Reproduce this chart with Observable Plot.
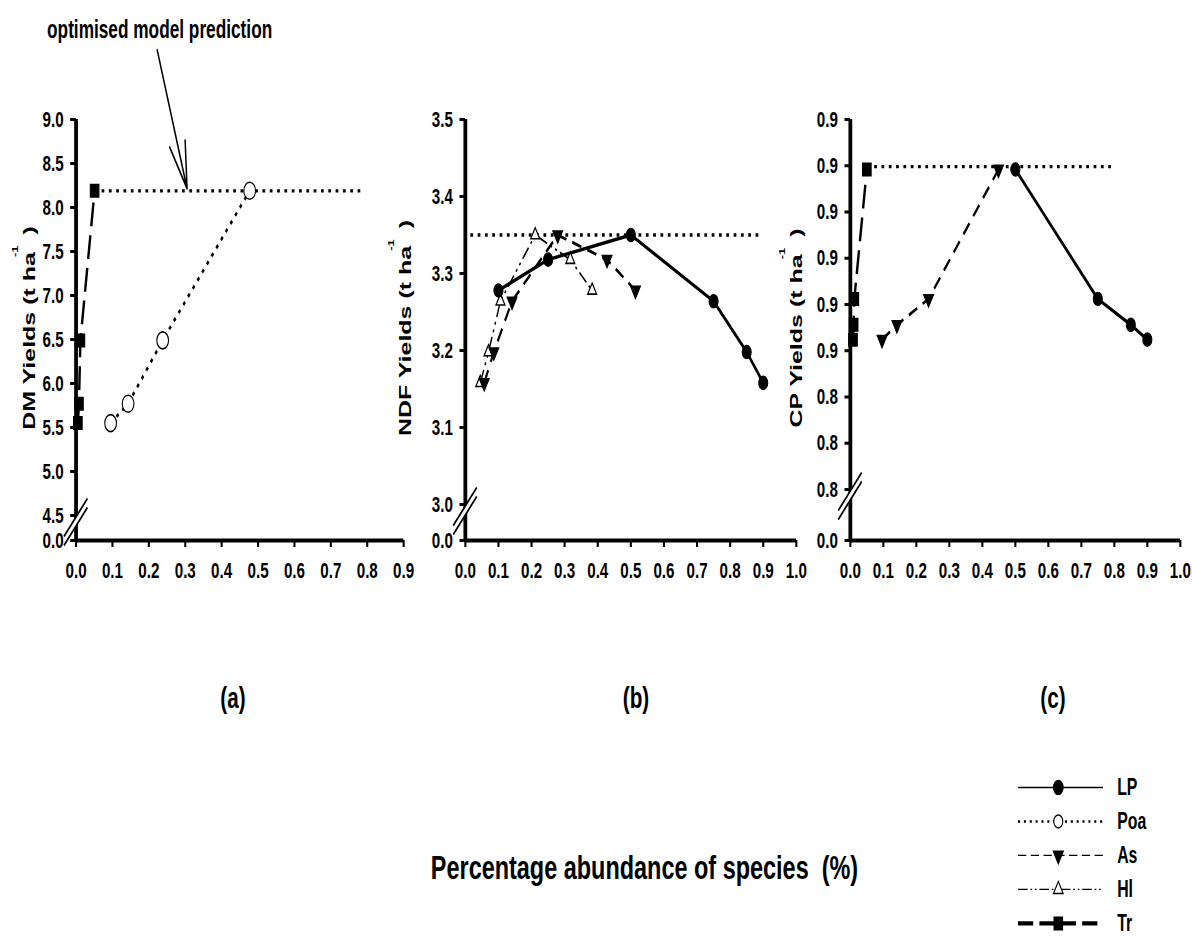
<!DOCTYPE html>
<html>
<head>
<meta charset="utf-8">
<script src="https://cdn.jsdelivr.net/npm/d3@7"></script>
<script src="https://cdn.jsdelivr.net/npm/@observablehq/plot@0.6"></script>
<style>
  html, body { margin: 0; padding: 0; background: #fff; }
  #frame { position: relative; width: 1192px; height: 937px; overflow: hidden; background: #fff; }
  #stage { position: absolute; left: 0; top: 0; height: 937px; transform-origin: 0 0; }
  #stage svg { position: absolute; top: 0; overflow: visible; }
</style>
</head>
<body>
<div id="frame"><div id="stage"></div></div>
<script>
// The figure is laid out on a wide stage and squeezed horizontally as a whole.
const SQUEEZE = 0.69;
const STAGE_W = 1192 / SQUEEZE;
const FONT = "'Liberation Sans', Arial, Helvetica, sans-serif";

// ---------------- data ----------------
const speciesNames = ["LP", "Poa", "As", "Hl", "Tr"];

// (a) DM yields
const dmPoaX = [0.095, 0.143, 0.238, 0.477];
const dmPoaY = [5.55, 5.77, 6.49, 8.19];
const dmTrX  = [0.005, 0.008, 0.012, 0.051];
const dmTrY  = [5.55, 5.77, 6.49, 8.19];
const dmOptX = [0.05, 0.79];
const dmOptY = [8.19, 8.19];
const dmTicks = [4.5, 5.0, 5.5, 6.0, 6.5, 7.0, 7.5, 8.0, 8.5, 9.0];
const dmAbundanceTicks = [0, 0.1, 0.2, 0.3, 0.4, 0.5, 0.6, 0.7, 0.8, 0.9];

// (b) NDF yields
const ndfLpX = [0.10, 0.25, 0.50, 0.75, 0.85, 0.90];
const ndfLpY = [3.278, 3.318, 3.350, 3.264, 3.198, 3.158];
const ndfAsX = [0.057, 0.086, 0.141, 0.279, 0.428, 0.514];
const ndfAsY = [3.158, 3.198, 3.264, 3.350, 3.318, 3.278];
const ndfHlX = [0.045, 0.070, 0.106, 0.211, 0.317, 0.383];
const ndfHlY = [3.158, 3.198, 3.264, 3.350, 3.318, 3.278];
const ndfOptX = [0.015, 0.89];
const ndfOptY = [3.35, 3.35];
const ndfTicks = [3.0, 3.1, 3.2, 3.3, 3.4, 3.5];

// (c) CP yields
const cpLpX = [0.50, 0.75, 0.85, 0.90];
const cpLpY = [0.8892, 0.8612, 0.8556, 0.8524];
const cpAsX = [0.096, 0.141, 0.237, 0.449];
const cpAsY = [0.8524, 0.8556, 0.8612, 0.8892];
const cpTrX = [0.008, 0.010, 0.012, 0.050];
const cpTrY = [0.8524, 0.8556, 0.8612, 0.8892];
const cpOptX = [0.05, 0.80];
const cpOptY = [0.8898, 0.8898];
const cpTicks = [0.82, 0.83, 0.84, 0.85, 0.86, 0.87, 0.88, 0.89, 0.90];
const cpTickLabels = ["0.8", "0.8", "0.8", "0.9", "0.9", "0.9", "0.9", "0.9", "0.9"];
const fullAbundanceTicks = [0, 0.1, 0.2, 0.3, 0.4, 0.5, 0.6, 0.7, 0.8, 0.9, 1.0];

// annotation arrow on the DM panel
const noteText = "optimised model prediction";
const noteFromX = [0.223], noteFromY = [9.79];
const noteToX = [0.305], noteToY = [8.215];

const panelLabels = ["(a)", "(b)", "(c)"];
const xTitle = "Percentage abundance of species  (%)";

// ---------------- styles ----------------
const triangleDown = {
  draw(context, size) {
    const r = Math.sqrt(size / Math.PI);
    const a = r * 2.69, h = a * Math.sqrt(3) / 2;
    context.moveTo(0, h * 2 / 3);
    context.lineTo(-a / 2, -h / 3);
    context.lineTo(a / 2, -h / 3);
    context.closePath();
  }
};

const DOTTED = "4,6.6";
const seriesStyle = {
  LP:  {dash: null, width: 3.5, symbol: "circle", r: 6.5, fill: "black",
        legend: {dash: null, width: 1.4, r: 7}},
  Poa: {dash: DOTTED, width: 3.3, symbol: "circle", r: 8.5, fill: "white",
        legend: {dash: "3,5.5", width: 2.6, r: 6.5}},
  As:  {dash: "14,9", width: 3, symbol: triangleDown, r: 5.2, fill: "black",
        legend: {dash: "12,6.5", width: 1.3, r: 5.4}},
  Hl:  {dash: "14,5,3,5,3,5", width: 2, symbol: "triangle", r: 4.8, fill: "white",
        legend: {dash: "14,4,2.5,4,2.5,4", width: 1.3, r: 5.2}},
  Tr:  {dash: "24,9", width: 3.5, symbol: "square", r: 7, fill: "black",
        legend: {dash: "22,9", width: 4.2, r: 7}}
};

const rowsOf = (xs, ys) => xs.map((x, i) => ({x, y: ys[i]}));

function seriesLine(name, xs, ys) {
  const s = seriesStyle[name];
  return Plot.line(rowsOf(xs, ys), {x: "x", y: "y", stroke: "black", strokeWidth: s.width,
    strokeDasharray: s.dash, strokeLinecap: "butt", strokeLinejoin: "round"});
}
function seriesDots(name, xs, ys) {
  const s = seriesStyle[name];
  return Plot.dot(rowsOf(xs, ys), {x: "x", y: "y", symbol: s.symbol, r: s.r,
    fill: s.fill, stroke: "black", strokeWidth: 1.6});
}

// broken-axis marker: two parallel slashes across the y axis just below the lowest tick
function axisBreak(lowTick) {
  return (index, scales) => {
    const x = scales.x(0), yc = scales.y(lowTick) + 7;
    const hx = 17, hy = 19, gap = 4.5, k = hy / hx, w = 5;
    const g = d3.create("svg:g");
    g.append("path")
      .attr("d", `M${x - w},${yc - gap + w * k}L${x + w},${yc - gap - w * k}L${x + w},${yc + gap - w * k}L${x - w},${yc + gap + w * k}Z`)
      .attr("fill", "white");
    for (const o of [-gap, gap]) {
      g.append("line")
        .attr("x1", x - hx).attr("y1", yc + o + hy)
        .attr("x2", x + hx).attr("y2", yc + o - hy)
        .attr("stroke", "black").attr("stroke-width", 2.2);
    }
    return g.node();
  };
}

const H = 600, TOP = 119, FLOOR_PX = 540, TICK_FONT = 22;

function panel({left, width, x0px, x1px, xTicks, yTicks, yLabel, gap, lines, dots, opt, extra = []}) {
  const lo = yTicks[0], hi = yTicks[yTicks.length - 1];
  const yFloor = lo - gap * (hi - lo) / (FLOOR_PX - TOP - gap);
  const xMax = xTicks[xTicks.length - 1];
  const plot = Plot.plot({
    width, height: H,
    marginLeft: x0px - left,
    marginRight: left + width - x1px,
    marginTop: TOP,
    marginBottom: H - FLOOR_PX,
    x: {domain: [0, xMax]},
    y: {domain: [yFloor, hi]},
    style: {background: "transparent", overflow: "visible", maxWidth: "none",
            fontFamily: FONT, fontWeight: "bold", fontSize: TICK_FONT + "px", color: "black"},
    marks: [
      Plot.line(rowsOf(opt[0], opt[1]), {x: "x", y: "y", stroke: "black", strokeWidth: 3.3,
        strokeDasharray: DOTTED, strokeLinecap: "butt"}),
      ...lines,
      ...dots,
      Plot.ruleX([0], {y1: yFloor, y2: hi, stroke: "black", strokeWidth: 5.5}),
      Plot.ruleY([yFloor], {x1: 0, x2: xMax, stroke: "black", strokeWidth: 4.2}),
      Plot.axisY([yFloor, ...yTicks], {
        label: null, tickSize: 8, tickPadding: 10, strokeWidth: 3,
        tickFormat: d => d === yFloor ? "0.0" : yLabel(d),
        fontSize: TICK_FONT, fontWeight: "bold", fontFamily: FONT
      }),
      Plot.axisX(xTicks, {
        label: null, tickSize: 7, tickPadding: 15, strokeWidth: 3,
        tickFormat: d3.format(".1f"),
        fontSize: TICK_FONT, fontWeight: "bold", fontFamily: FONT
      }),
      axisBreak(lo),
      ...extra
    ]
  });
  plot.style.left = left + "px";
  plot.style.top = "0px";
  plot.style.position = "absolute";
  return plot;
}

const stage = document.getElementById("stage");
stage.style.width = STAGE_W + "px";
stage.style.transform = `scaleX(${SQUEEZE})`;

const fmt1 = d3.format(".1f");
const noteRows = noteFromX.map((x, i) => ({x1: x, y1: noteFromY[i], x2: noteToX[i], y2: noteToY[i]}));

// (a) DM
stage.appendChild(panel({
  left: 0, width: 640, x0px: 75.7 / SQUEEZE, x1px: 403.3 / SQUEEZE,
  xTicks: dmAbundanceTicks, yTicks: dmTicks, yLabel: fmt1, gap: 25,
  opt: [dmOptX, dmOptY],
  lines: [seriesLine("Poa", dmPoaX, dmPoaY), seriesLine("Tr", dmTrX, dmTrY)],
  dots: [seriesDots("Poa", dmPoaX, dmPoaY), seriesDots("Tr", dmTrX, dmTrY)],
  extra: [
    Plot.arrow(noteRows, {x1: "x1", y1: "y1", x2: "x2", y2: "y2", stroke: "black",
      strokeWidth: 2.2, headLength: 40, headAngle: 28}),
    Plot.text(noteRows, {x: "x1", y: "y1", text: () => noteText, dy: -12, dx: 3.5,
      textAnchor: "middle", lineAnchor: "bottom", fontSize: 25, fontWeight: "bold", fontFamily: FONT})
  ]
}));

// (b) NDF
stage.appendChild(panel({
  left: 600, width: 600, x0px: 465 / SQUEEZE, x1px: 796 / SQUEEZE,
  xTicks: fullAbundanceTicks, yTicks: ndfTicks, yLabel: fmt1, gap: 36,
  opt: [ndfOptX, ndfOptY],
  lines: [seriesLine("Hl", ndfHlX, ndfHlY), seriesLine("As", ndfAsX, ndfAsY), seriesLine("LP", ndfLpX, ndfLpY)],
  dots: [seriesDots("Hl", ndfHlX, ndfHlY), seriesDots("As", ndfAsX, ndfAsY), seriesDots("LP", ndfLpX, ndfLpY)]
}));

// (c) CP
stage.appendChild(panel({
  left: 1180, width: STAGE_W - 1180, x0px: 850 / SQUEEZE, x1px: 1180 / SQUEEZE,
  xTicks: fullAbundanceTicks, yTicks: cpTicks, yLabel: d => cpTickLabels[cpTicks.indexOf(d)], gap: 51,
  opt: [cpOptX, cpOptY],
  lines: [seriesLine("As", cpAsX, cpAsY), seriesLine("Tr", cpTrX, cpTrY), seriesLine("LP", cpLpX, cpLpY)],
  dots: [seriesDots("As", cpAsX, cpAsY), seriesDots("Tr", cpTrX, cpTrY), seriesDots("LP", cpLpX, cpLpY)]
}));

// legend: one row per species, line sample + marker + name
{
  const left = 1440, x0 = 1018 / SQUEEZE, x1 = 1103 / SQUEEZE, width = STAGE_W - left;
  const marks = [];
  for (const name of speciesNames) {
    const s = seriesStyle[name], l = s.legend;
    marks.push(Plot.ruleY([name], {x1: 0, x2: 1, stroke: "black", strokeWidth: l.width,
      strokeDasharray: l.dash, strokeLinecap: "butt"}));
    marks.push(Plot.dot([name], {x: 0.47, y: d => d, symbol: s.symbol, r: l.r,
      fill: s.fill, stroke: "black", strokeWidth: 1.5}));
  }
  marks.push(Plot.text(speciesNames, {x: 1, y: d => d, text: d => d, dx: 20, textAnchor: "start",
    fontSize: 23, fontWeight: "bold", fontFamily: FONT}));
  const legend = Plot.plot({
    width, height: 937,
    marginLeft: x0 - left, marginRight: left + width - x1,
    marginTop: 787, marginBottom: 937 - 923,
    x: {domain: [0, 1], axis: null},
    y: {type: "point", domain: speciesNames, padding: 0, axis: null},
    style: {background: "transparent", overflow: "visible", maxWidth: "none",
            fontFamily: FONT, color: "black"},
    marks
  });
  legend.style.left = left + "px";
  legend.style.position = "absolute";
  stage.appendChild(legend);
}

// titles: rotated y titles with superscript, panel letters, shared x title
{
  const svg = d3.create("svg")
    .attr("width", STAGE_W).attr("height", 937)
    .style("left", "0px").style("pointer-events", "none")
    .attr("font-family", FONT).attr("font-weight", "bold");

  const yTitle = (x, y, name) => {
    const t = svg.append("text")
      .attr("transform", `translate(${x},${y}) rotate(-90)`)
      .attr("text-anchor", "middle").attr("font-size", 25);
    t.append("tspan").text(`${name} Yields (t ha`);
    t.append("tspan").attr("font-size", 13).attr("dx", -5).attr("dy", -24).text("-1");
    t.append("tspan").attr("dx", 4).attr("dy", 24).style("white-space", "pre").text(" )");
  };
  yTitle(35 / SQUEEZE, 328, "DM");
  yTitle(410.5 / SQUEEZE, 328, "NDF");
  yTitle(802 / SQUEEZE, 328, "CP");

  const labelX = [233, 636, 1053];
  panelLabels.forEach((lab, i) => {
    svg.append("text").attr("x", labelX[i] / SQUEEZE).attr("y", 708)
      .attr("text-anchor", "middle").attr("font-size", 30).text(lab);
  });

  svg.append("text").attr("x", 644.5 / SQUEEZE).attr("y", 879)
    .attr("text-anchor", "middle").attr("font-size", 34)
    .style("white-space", "pre").text(xTitle);

  stage.appendChild(svg.node());
}
</script>
</body>
</html>
